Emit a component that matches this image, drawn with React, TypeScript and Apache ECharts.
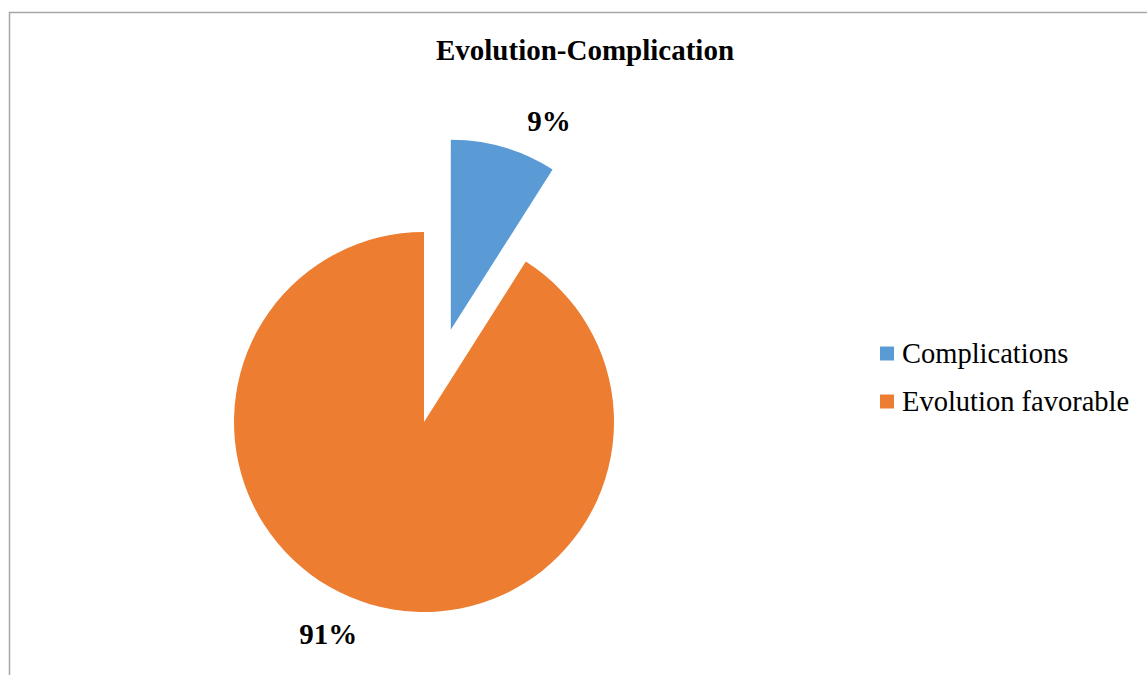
import React, { useEffect, useRef } from "react";
import * as echarts from "echarts";

const chartTitle = "Evolution-Complication";
const categories = ["Complications", "Evolution favorable"];
const shares = [9, 91];
const colors = ["#5B9BD5", "#ED7D31"];

const serif = '"Liberation Serif", "Times New Roman", serif';

export default function App() {
  const ref = useRef<HTMLDivElement>(null);

  useEffect(() => {
    document.body.style.margin = "0";
    if (!ref.current) return;
    const chart = echarts.init(ref.current, null, { renderer: "svg" });

    // per-slice label line lengths place each percentage just beyond its slice
    const lineLengths = [
      { length: 27, length2: 11 },
      { length: 31, length2: 0 },
    ];

    const data = categories.map((name, i) => ({
      name,
      value: shares[i],
      selected: i === 0,
      itemStyle: { color: colors[i] },
      labelLine: { show: false, ...lineLengths[i] },
    }));

    chart.setOption({
      animation: false,
      backgroundColor: "#ffffff",
      title: {
        text: chartTitle,
        left: 580,
        top: 30,
        textAlign: "center",
        textStyle: {
          fontFamily: serif,
          fontWeight: "bold",
          fontSize: 29,
          color: "#000000",
        },
      },
      legend: {
        orient: "vertical",
        left: 875,
        top: 334,
        itemWidth: 14,
        itemHeight: 14,
        itemGap: 19,
        icon: "rect",
        selectedMode: false,
        textStyle: {
          fontFamily: serif,
          fontSize: 28.5,
          color: "#000000",
          padding: [0, 0, 0, 3],
        },
      },
      graphic: [
        {
          type: "rect",
          shape: { x: 9.5, y: 12.5, width: 1200, height: 700 },
          style: { fill: "none", stroke: "#a6a6a6", lineWidth: 1.5 },
          silent: true,
        },
      ],
      series: [
        {
          type: "pie",
          center: [424, 422],
          radius: 190,
          startAngle: 90,
          clockwise: true,
          selectedMode: "single",
          selectedOffset: 96,
          emphasis: { disabled: true },
          label: {
            show: true,
            position: "outside",
            formatter: (p: any) => `${p.value}%`,
            fontFamily: serif,
            fontWeight: "bold",
            fontSize: 29,
            color: "#000000",
          },
          labelLine: { show: false, length: 27, length2: 11 },
          data,
        },
      ],
    });

    return () => chart.dispose();
  }, []);

  return <div ref={ref} style={{ width: 1147, height: 675 }} />;
}
